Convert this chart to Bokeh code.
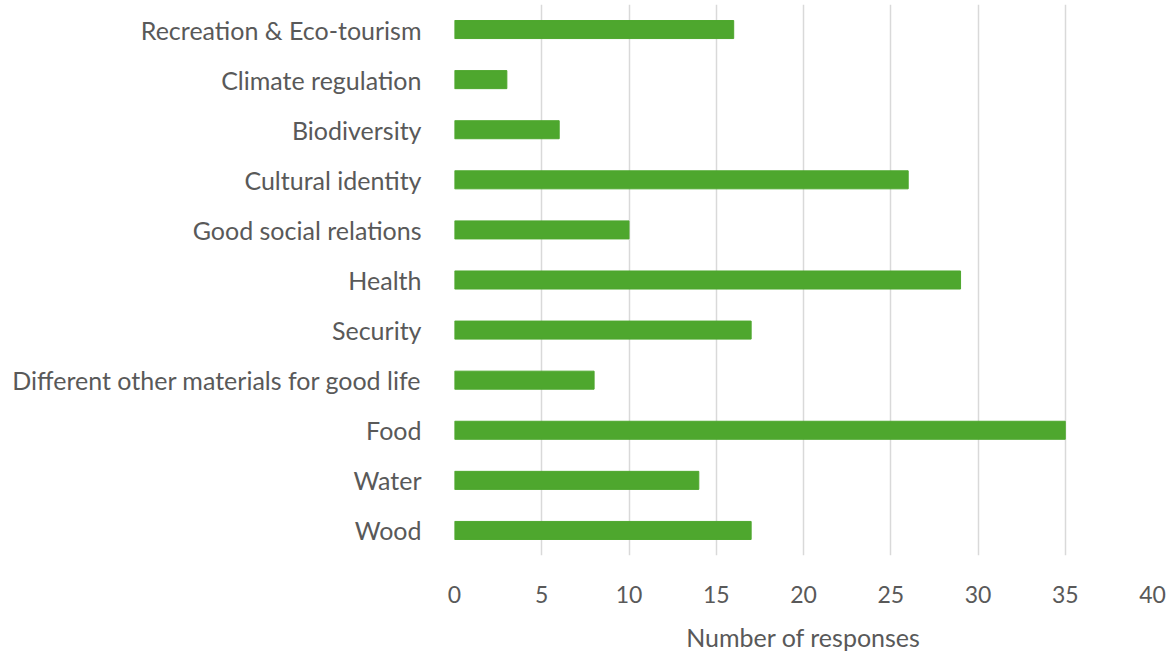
from bokeh.plotting import figure
from bokeh.models import FixedTicker, Range1d
from bokeh.embed import file_html
from bokeh.resources import INLINE

categories = ["Wood", "Water", "Food", "Different other materials for good life", "Security",
              "Health", "Good social relations", "Cultural identity", "Biodiversity",
              "Climate regulation", "Recreation & Eco-tourism"]
responses = [17, 14, 35, 8, 17, 29, 10, 26, 6, 3, 16]
x_ticks = [0, 5, 10, 15, 20, 25, 30, 35, 40]

FONT = "Lato"
TXT = "#595959"

p = figure(width=1168, height=657, y_range=categories, x_range=Range1d(0, 40),
           output_backend="svg", toolbar_location=None,
           min_border_left=454, min_border_right=16, min_border_top=4, min_border_bottom=102)

p.hbar(y=categories, right=responses, left=0, height=0.36, color="#4EA72E")

p.outline_line_color = None
p.ygrid.grid_line_color = None
p.xgrid.grid_line_color = "#D9D9D9"
p.xgrid.grid_line_width = 1.5
p.xaxis.ticker = FixedTicker(ticks=x_ticks)

for ax in (p.xaxis[0], p.yaxis[0]):
    ax.axis_line_color = None
    ax.major_tick_line_color = None
    ax.minor_tick_line_color = None
    ax.major_label_text_font = FONT
    ax.major_label_text_color = TXT
    ax.major_label_text_font_size = "25px"
    ax.major_label_text_font_style = "normal"

p.yaxis.major_label_standoff = 27
p.xaxis.major_label_text_font_size = "23px"
p.xaxis.major_label_standoff = 24
p.xaxis.axis_label = "Number of responses"
p.xaxis.axis_label_text_font = FONT
p.xaxis.axis_label_text_font_style = "normal"
p.xaxis.axis_label_text_font_size = "25px"
p.xaxis.axis_label_text_color = TXT
p.xaxis.axis_label_standoff = 16

open("out.html", "w").write(file_html(p, INLINE))
